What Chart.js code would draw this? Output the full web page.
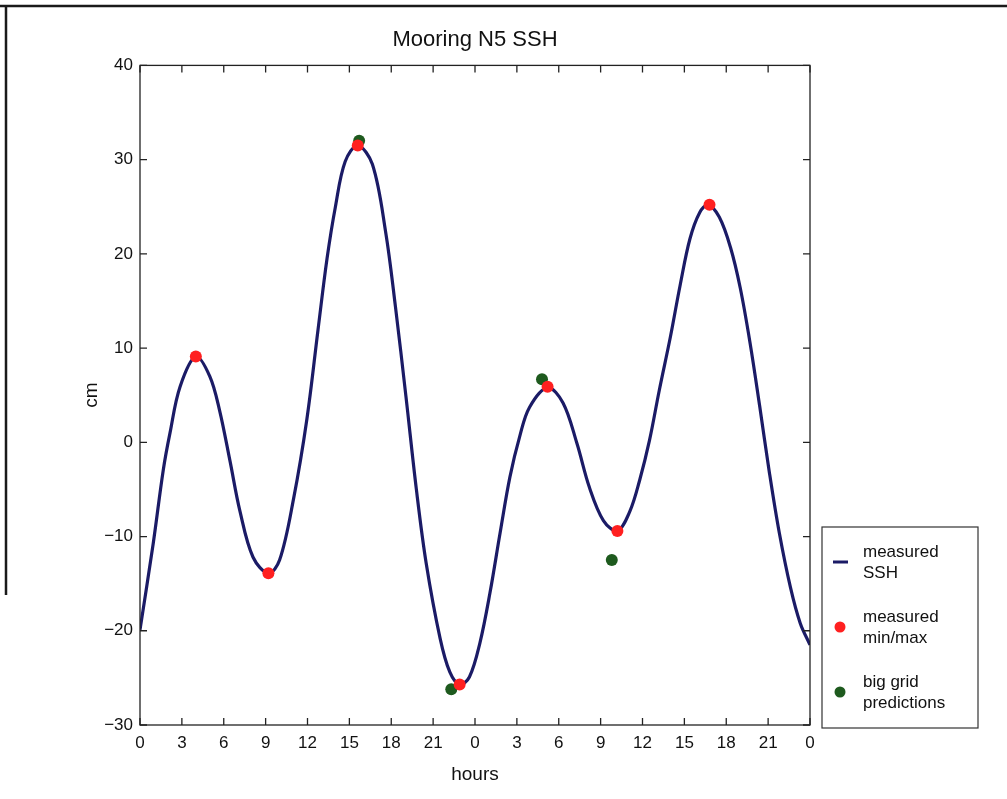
<!DOCTYPE html>
<html>
<head>
<meta charset="utf-8">
<title>Mooring N5 SSH</title>
<script src="https://cdn.jsdelivr.net/npm/chart.js@4/dist/chart.umd.min.js"></script>
<style>
	html, body {margin: 0; padding: 0; background: #fff;}
	#box {width: 1007px; height: 799px; position: relative;}
</style>
</head>
<body>
<div id="box"><canvas id="sshChart"></canvas></div>
<script>
//данные, снятые с картинки
//время в часах (0..48) и уровень в см для кривой measured SSH
let curveHours = [0, 0.95, 1.67, 2.15, 2.87, 4.0, 5.0, 5.7, 6.45, 7.16, 8.1, 9.2, 10.0, 11.0, 11.95, 12.75, 13.4, 14.0, 14.7, 15.6,
	16.65, 17.6, 18.3, 19.05, 19.8, 20.5, 21.5, 22.2, 22.9, 23.6, 24.35, 25.07, 25.8, 26.5, 27.2, 27.9, 29.2,
	30.3, 31.3, 32.2, 33.2, 34.2, 35.1, 35.8, 36.5, 37.2, 38.0, 38.7, 39.4, 40.1, 40.7, 41.5, 42.3, 43.0,
	43.7, 44.4, 45.1, 45.8, 46.6, 47.3, 48];
let curveSSH = [-19.9, -10.7, -2.9, 1.0, 5.9, 9.1, 7.0, 3.4, -2.0, -7.3, -12.2, -13.9, -12.5, -6.0, 2.4, 11.9, 19.5, 25.0, 29.8, 31.5,
	29.5, 22.3, 14.4, 4.9, -5.0, -12.8, -20.8, -24.4, -25.7, -24.9, -21.3, -16.0, -9.6, -3.7, 0.6, 3.7, 5.8,
	4.2, -0.1, -4.8, -8.3, -9.4, -7.3, -4.0, 0.2, 5.5, 11.2, 16.7, 21.6, 24.4, 25.2, 23.9, 20.7, 16.4,
	10.6, 3.8, -3.3, -9.6, -15.4, -19.2, -21.5];

//measured min/max (красные точки)
let minmaxHours = [4.0, 9.2, 15.6, 22.9, 29.2, 34.2, 40.8];
let minmaxSSH = [9.1, -13.9, 31.5, -25.7, 5.9, -9.4, 25.2];

//big grid predictions (зелёные точки)
let gridHours = [15.7, 22.3, 28.8, 33.8];
let gridSSH = [32.0, -26.2, 6.7, -12.5];

//подписи
let xTicks = [0, 3, 6, 9, 12, 15, 18, 21, 24, 27, 30, 33, 36, 39, 42, 45, 48];
let yTicks = [-30, -20, -10, 0, 10, 20, 30, 40];
let legendItems = [
	{lines: ['measured', 'SSH'], kind: 'line', color: '#1b1b66'},
	{lines: ['measured', 'min/max'], kind: 'dot', color: '#ff2020'},
	{lines: ['big grid', 'predictions'], kind: 'dot', color: '#1e5a1e'}
];

const FONT = '"Liberation Sans", Arial, Helvetica, sans-serif';

//собираем пары x/y для chart.js
function pairs(xs, ys) {
	return xs.map(function (x, i) { return {x: x, y: ys[i]}; });
}

//плагин: рамка графика, внутренние засечки, легенда справа и рамка листа
let frameAndLegend = {
	id: 'frameAndLegend',
	afterDraw: function (chart) {
		let ctx = chart.ctx;
		let a = chart.chartArea;
		let xs = chart.scales.x;
		let ys = chart.scales.y;
		ctx.save();

		//рамка области построения
		ctx.strokeStyle = '#222';
		ctx.lineWidth = 1.3;
		ctx.strokeRect(a.left, a.top, a.right - a.left, a.bottom - a.top);

		//засечки внутрь, как в matlab
		ctx.beginPath();
		xTicks.forEach(function (v) {
			let px = xs.getPixelForValue(v);
			ctx.moveTo(px, a.bottom); ctx.lineTo(px, a.bottom - 7);
			ctx.moveTo(px, a.top); ctx.lineTo(px, a.top + 7);
		});
		yTicks.forEach(function (v) {
			let py = ys.getPixelForValue(v);
			ctx.moveTo(a.left, py); ctx.lineTo(a.left + 7, py);
			ctx.moveTo(a.right, py); ctx.lineTo(a.right - 7, py);
		});
		ctx.stroke();

		//легенда
		let lx = 822, ly = 527, lw = 156, lh = 201;
		ctx.strokeStyle = '#333';
		ctx.lineWidth = 1.2;
		ctx.strokeRect(lx, ly, lw, lh);
		ctx.font = '17px ' + FONT;
		ctx.fillStyle = '#111';
		ctx.textBaseline = 'middle';
		legendItems.forEach(function (item, i) {
			let cy = ly + 35 + i * 65;
			if (item.kind === 'line') {
				ctx.strokeStyle = item.color;
				ctx.lineWidth = 3;
				ctx.beginPath();
				ctx.moveTo(lx + 11, cy);
				ctx.lineTo(lx + 26, cy);
				ctx.stroke();
			} else {
				ctx.fillStyle = item.color;
				ctx.beginPath();
				ctx.arc(lx + 18, cy, 5.5, 0, Math.PI * 2);
				ctx.fill();
			}
			ctx.fillStyle = '#111';
			ctx.textAlign = 'left';
			ctx.fillText(item.lines[0], lx + 41, cy - 10);
			ctx.fillText(item.lines[1], lx + 41, cy + 11);
		});

		//края отсканированного листа
		ctx.strokeStyle = '#1a1a1a';
		ctx.lineWidth = 2.5;
		ctx.beginPath();
		ctx.moveTo(0, 6); ctx.lineTo(1007, 6);
		ctx.moveTo(6, 6); ctx.lineTo(6, 595);
		ctx.stroke();
		ctx.restore();
	}
};

var ctx = document.getElementById('sshChart').getContext('2d');
var sshChart = new Chart(ctx, {
	type: 'scatter',
	data: {
		datasets: [
			{
				label: 'measured min/max',
				data: pairs(minmaxHours, minmaxSSH),
				backgroundColor: '#ff2020',
				borderWidth: 0,
				pointRadius: 6,
				order: 0
			},
			{
				label: 'big grid predictions',
				data: pairs(gridHours, gridSSH),
				backgroundColor: '#1e5a1e',
				borderWidth: 0,
				pointRadius: 6,
				order: 1
			},
			{
				type: 'line',
				label: 'measured SSH',
				data: pairs(curveHours, curveSSH),
				borderColor: '#1b1b66',
				borderWidth: 3.2,
				pointRadius: 0,
				fill: false,
				tension: 0.35,
				order: 2
			}
		]
	},
	options: {
		responsive: true,
		maintainAspectRatio: false,
		animation: false,
		events: [],
		layout: {padding: {left: 80, top: 27, right: 197, bottom: 10}},
		plugins: {
			legend: {display: false},
			tooltip: {enabled: false},
			title: {
				display: true,
				text: 'Mooring N5 SSH',
				fullSize: false,
				color: '#111',
				font: {family: FONT, size: 22, weight: 'normal'},
				padding: {top: 0, bottom: 12}
			}
		},
		scales: {
			x: {
				type: 'linear',
				min: 0,
				max: 48,
				afterBuildTicks: function (scale) {
					scale.ticks = xTicks.map(function (v) { return {value: v}; });
				},
				afterFit: function (scale) { scale.height = 64; },
				grid: {display: false, drawTicks: false},
				border: {display: false},
				ticks: {
					padding: 8,
					color: '#111',
					font: {family: FONT, size: 17},
					maxRotation: 0,
					autoSkip: false,
					callback: function (v) { return String(v % 24); }
				},
				title: {
					display: true,
					text: 'hours',
					color: '#111',
					font: {family: FONT, size: 19},
					padding: {top: 0, bottom: 3}
				}
			},
			y: {
				min: -30,
				max: 40,
				afterBuildTicks: function (scale) {
					scale.ticks = yTicks.map(function (v) { return {value: v}; });
				},
				afterFit: function (scale) { scale.width = 60; },
				grid: {display: false, drawTicks: false},
				border: {display: false},
				ticks: {
					padding: 7,
					color: '#111',
					font: {family: FONT, size: 17},
					callback: function (v) { return String(v).replace('-', '\u2212'); }
				},
				title: {
					display: true,
					text: 'cm',
					color: '#111',
					font: {family: FONT, size: 19},
					padding: {top: 0, bottom: 0}
				}
			}
		}
	},
	plugins: [frameAndLegend]
});
</script>
</body>
</html>
